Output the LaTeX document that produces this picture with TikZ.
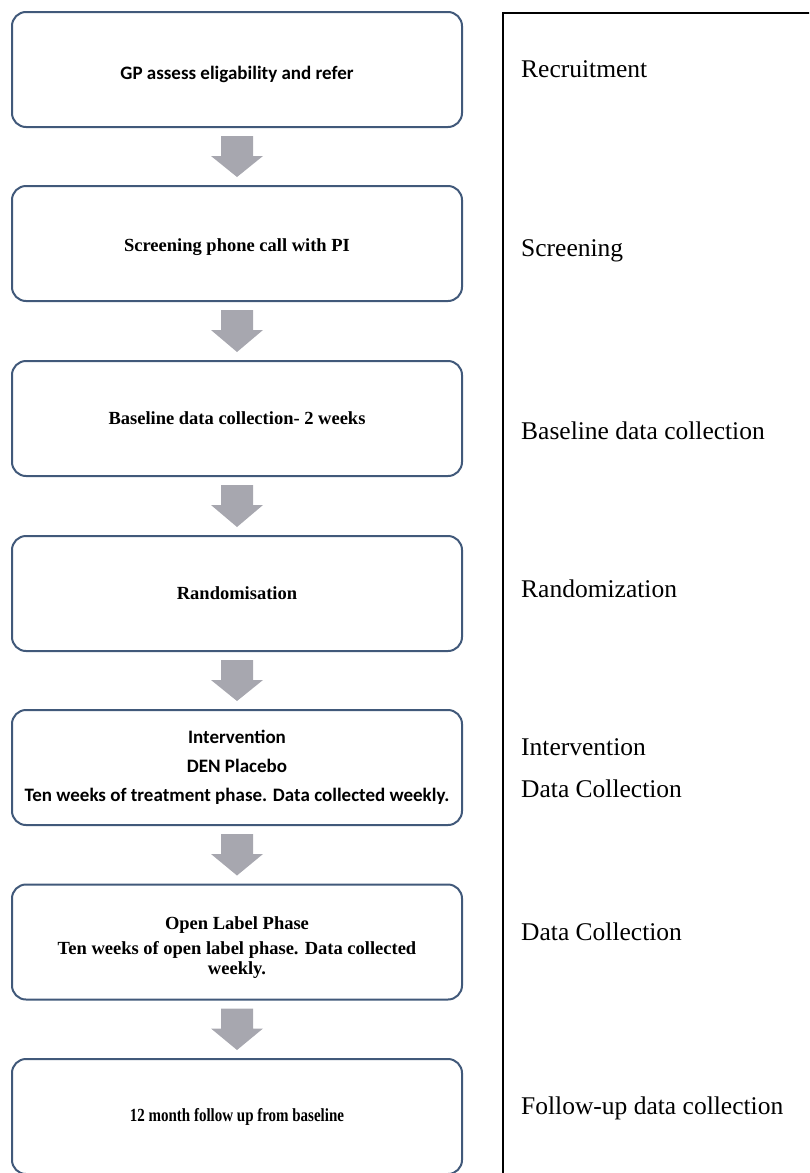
\documentclass[tikz,border=0pt]{standalone}
\usepackage{fontspec}
\setmainfont{Liberation Serif}
\newfontfamily\calibri{Carlito}
\newfontfamily\narrowserif[FakeStretch=0.81]{Liberation Serif}
\usetikzlibrary{calc}
\definecolor{frame}{HTML}{41597A}
\definecolor{flow}{HTML}{A7A7AF}
\tikzset{
  stage/.style={draw=frame, line width=2pt, rounded corners=14pt, minimum width=450pt, minimum height=115pt, align=center, font=\bfseries\fontsize{18.5}{20}\selectfont},
  stageSans/.style={stage, font=\calibri\bfseries\fontsize{19}{29}\selectfont},
  stageNarrow/.style={stage, font=\narrowserif\bfseries\fontsize{18.5}{20}\selectfont},
  phase/.style={anchor=base west, inner sep=0pt, font=\fontsize{25.5}{30}\selectfont},
  flowArrow/.style={fill=flow, draw=none}
}

\begin{document}
\begin{tikzpicture}[x=1pt, y=-1pt]
  \useasboundingbox (0,0) rectangle (809,1173);
  \clip (0,0) rectangle (809,1173);

  % flow boxes
  \node[stageSans] (S1) at (237,69.5) {\rule{0pt}{24pt}GP assess eligability and refer};
  \node[stage] (S2) at (237,243.5) {\rule{0pt}{20pt}Screening phone call with PI};
  \node[stage] (S3) at (237,418.5) {Baseline data collection- 2 weeks};
  \node[stage] (S4) at (237,593.5) {Randomisation};
  \node[stageSans] (S5) at (237,767.5) {Intervention\\DEN Placebo\\Ten weeks of treatment phase. Data collected weekly.};
  \node[stage] (S6) at (237,942) {\rule{0pt}{24pt}Open Label Phase\\[5pt]Ten weeks of open label phase. Data collected\\weekly.};
  \node[stageNarrow] (S7) at (237,1116.5) {12 month follow up from baseline};

  \foreach \a/\b in {S1/S2,S2/S3,S3/S4,S4/S5,S5/S6,S6/S7}
    \fill[flowArrow] ($(\a.south)+(-16,8)$) -- ($(\a.south)+(16,8)$) -- ($(\a.south)+(16,28)$)
      -- ($(\a.south)+(26,28)$) -- ($(\b.north)+(0,-8)$) -- ($(\a.south)+(-26,28)$)
      -- ($(\a.south)+(-16,28)$) -- cycle;

  % phase column
  \draw[line width=1.5pt] (815,13) -- (503,13) -- (503,1180);
  \node[phase] (P1) at (521,77) {Recruitment};
  \node[phase] (P2) at (521,256) {Screening};
  \node[phase] (P3) at (521,439) {Baseline data collection};
  \node[phase] (P4) at (521,597) {Randomization};
  \node[phase] (P5) at (521,755) {Intervention};
  \node[phase] (P6) at (521,797) {Data Collection};
  \node[phase] (P7) at (521,940) {Data Collection};
  \node[phase] (P8) at (521,1114) {Follow-up data collection};
\end{tikzpicture}
\end{document}
